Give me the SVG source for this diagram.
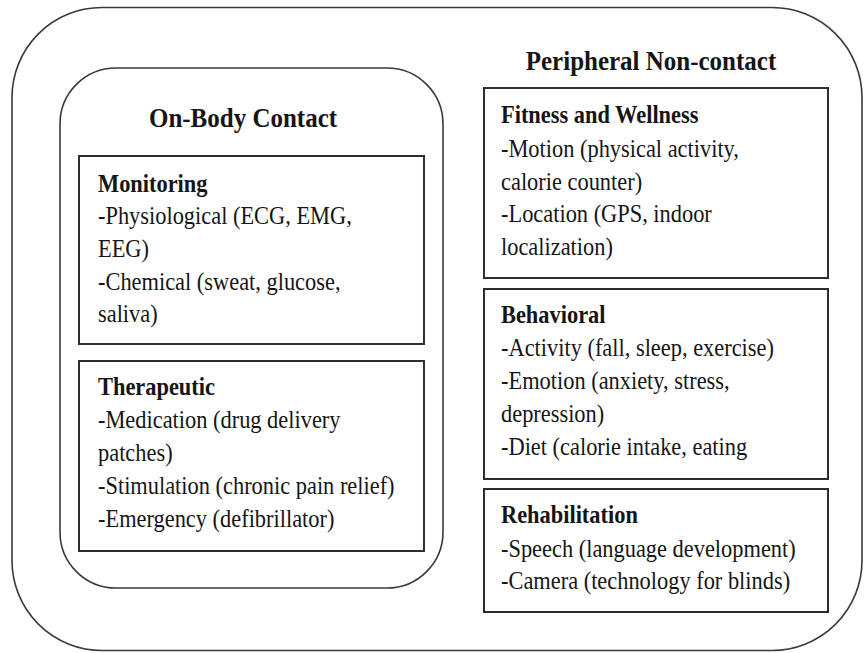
<svg xmlns="http://www.w3.org/2000/svg" width="864" height="653" viewBox="0 0 864 653">
  <style>
    .frame { fill: none; stroke: #3a3a3a; stroke-width: 1.6; }
    .box { fill: #ffffff; stroke: #2e2e2e; stroke-width: 2; }
    text { font-family: "Liberation Serif", "Times New Roman", serif; fill: #151515; }
    .title { font-size: 25px; font-weight: bold; }
    .head { font-size: 22.4px; font-weight: bold; }
    .body { font-size: 22.4px; }
  </style>
  <rect width="864" height="653" fill="#ffffff"/>

  <!-- outer frame -->
  <g id="outer">
    <rect class="frame" x="12" y="7.5" width="850" height="643" rx="90" ry="90"/>
  </g>

  <!-- on-body contact group -->
  <g id="on-body">
    <rect class="frame" x="60" y="68" width="383" height="520" rx="56" ry="56"/>
    <text class="title" text-anchor="middle" transform="translate(243,127) scale(1,1.13)">On-Body Contact</text>
  </g>

  <g id="monitoring">
    <rect class="box" x="79" y="156" width="345" height="188"/>
    <text class="head" transform="translate(98,192) scale(1,1.13)">Monitoring</text>
    <text class="body" transform="translate(98,224) scale(1,1.13)">-Physiological (ECG, EMG,</text>
    <text class="body" transform="translate(98,257) scale(1,1.13)">EEG)</text>
    <text class="body" transform="translate(98,290) scale(1,1.13)">-Chemical (sweat, glucose,</text>
    <text class="body" transform="translate(98,322) scale(1,1.13)">saliva)</text>
  </g>

  <g id="therapeutic">
    <rect class="box" x="79" y="361" width="345" height="190"/>
    <text class="head" transform="translate(98,395) scale(1,1.13)">Therapeutic</text>
    <text class="body" transform="translate(98,428) scale(1,1.13)">-Medication (drug delivery</text>
    <text class="body" transform="translate(98,461) scale(1,1.13)">patches)</text>
    <text class="body" transform="translate(98,494) scale(1,1.13)">-Stimulation (chronic pain relief)</text>
    <text class="body" transform="translate(98,527) scale(1,1.13)">-Emergency (defibrillator)</text>
  </g>

  <!-- peripheral non-contact group -->
  <g id="peripheral">
    <text class="title" text-anchor="middle" transform="translate(651,70) scale(1,1.13)">Peripheral Non-contact</text>
  </g>

  <g id="fitness">
    <rect class="box" x="484" y="88" width="344" height="190"/>
    <text class="head" transform="translate(501,123) scale(1,1.13)">Fitness and Wellness</text>
    <text class="body" transform="translate(501,157) scale(1,1.13)">-Motion (physical activity,</text>
    <text class="body" transform="translate(501,190) scale(1,1.13)">calorie counter)</text>
    <text class="body" transform="translate(501,222) scale(1,1.13)">-Location (GPS, indoor</text>
    <text class="body" transform="translate(501,255) scale(1,1.13)">localization)</text>
  </g>

  <g id="behavioral">
    <rect class="box" x="484" y="289" width="344" height="190"/>
    <text class="head" transform="translate(501,323) scale(1,1.13)">Behavioral</text>
    <text class="body" transform="translate(501,356) scale(1,1.13)">-Activity (fall, sleep, exercise)</text>
    <text class="body" transform="translate(501,389) scale(1,1.13)">-Emotion (anxiety, stress,</text>
    <text class="body" transform="translate(501,422) scale(1,1.13)">depression)</text>
    <text class="body" transform="translate(501,455) scale(1,1.13)">-Diet (calorie intake, eating</text>
  </g>

  <g id="rehabilitation">
    <rect class="box" x="484" y="489" width="344" height="123"/>
    <text class="head" transform="translate(501,523) scale(1,1.13)">Rehabilitation</text>
    <text class="body" transform="translate(501,557) scale(1,1.13)">-Speech (language development)</text>
    <text class="body" transform="translate(501,589) scale(1,1.13)">-Camera (technology for blinds)</text>
  </g>

  <!-- no connectors in this figure -->
  <g id="connectors"/>
</svg>
